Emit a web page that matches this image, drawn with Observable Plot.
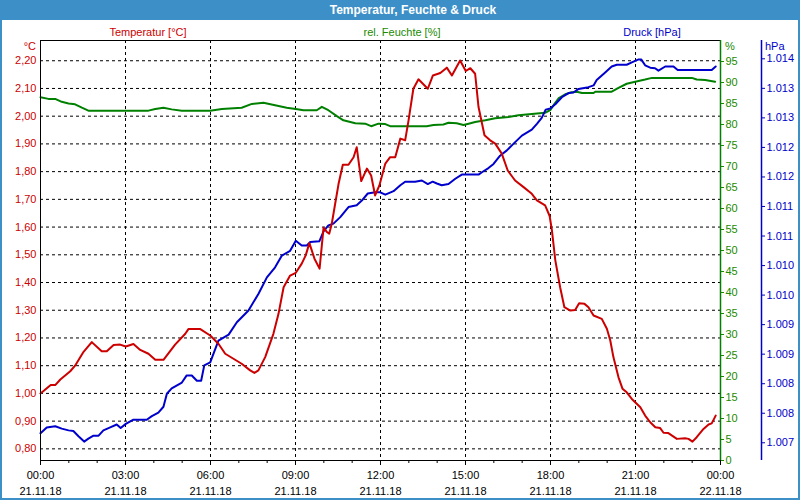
<!DOCTYPE html>
<html><head><meta charset="utf-8">
<script src="https://cdn.jsdelivr.net/npm/d3@7"></script>
<script src="https://cdn.jsdelivr.net/npm/@observablehq/plot@0.6"></script>
<style>
body{margin:0;background:#fff;}
#wrap{position:relative;width:800px;height:500px;overflow:hidden;font-family:"Liberation Sans",Arial,sans-serif;font-size:11px;background:#fff;}
#titlebar{position:absolute;left:0;top:0;width:800px;height:20px;background:#3d8fc7;}
#title{position:absolute;top:10px;left:413px;transform:translate(-50%,-50%);color:#fff;font-weight:bold;font-size:12px;white-space:nowrap;}
#border{position:absolute;left:0;top:0;width:796px;height:498px;border:2px solid #3d8fc7;border-top:none;pointer-events:none;}
.lab{position:absolute;white-space:nowrap;line-height:13px;}
#chart{position:absolute;left:0;top:20px;}
</style></head>
<body>
<div id="wrap">
  <div id="titlebar"></div>
  <div id="title">Temperatur, Feuchte &amp; Druck</div>
  <div class="lab" style="left:148px;top:32px;transform:translate(-50%,-50%);color:#cc0000">Temperatur [°C]</div>
  <div class="lab" style="left:402px;top:32px;transform:translate(-50%,-50%);color:#1a8a00">rel. Feuchte [%]</div>
  <div class="lab" style="left:652px;top:32px;transform:translate(-50%,-50%);color:#0000cc">Druck [hPa]</div>
  <div class="lab" style="left:36px;top:46px;transform:translate(-100%,-50%);color:#cc0000">°C</div>
  <div class="lab" style="left:730px;top:46px;transform:translate(-50%,-50%);color:#1a8a00">%</div>
  <div class="lab" style="left:765px;top:46px;transform:translate(0,-50%);color:#0000cc">hPa</div>
  <div id="chart"></div>
  <div id="border"></div>
</div>
<script>
// [hour of day, value]
const temperature = [[0.00,1.00],[0.36,1.03],[0.52,1.03],[0.70,1.05],[1.05,1.08],[1.22,1.10],[1.52,1.15],[1.81,1.185],[2.16,1.152],[2.34,1.152],[2.58,1.175],[2.81,1.176],[3.01,1.169],[3.28,1.178],[3.52,1.157],[3.81,1.143],[4.05,1.121],[4.34,1.121],[4.75,1.176],[5.11,1.215],[5.22,1.232],[5.64,1.232],[5.99,1.209],[6.28,1.179],[6.52,1.143],[6.81,1.125],[7.10,1.107],[7.40,1.083],[7.55,1.074],[7.69,1.083],[7.93,1.131],[8.22,1.215],[8.40,1.287],[8.58,1.383],[8.81,1.425],[9.01,1.435],[9.22,1.468],[9.36,1.498],[9.49,1.542],[9.67,1.486],[9.85,1.450],[9.99,1.598],[10.11,1.582],[10.19,1.576],[10.28,1.612],[10.40,1.684],[10.52,1.756],[10.67,1.825],[10.87,1.825],[11.05,1.852],[11.16,1.888],[11.32,1.766],[11.52,1.811],[11.67,1.786],[11.81,1.714],[11.96,1.75],[12.17,1.829],[12.34,1.852],[12.52,1.852],[12.70,1.919],[12.87,1.913],[12.99,1.985],[13.16,2.099],[13.34,2.133],[13.67,2.099],[13.85,2.147],[14.11,2.156],[14.34,2.175],[14.52,2.147],[14.81,2.201],[15.01,2.163],[15.17,2.173],[15.34,2.153],[15.46,2.033],[15.67,1.931],[15.87,1.913],[16.05,1.901],[16.28,1.865],[16.49,1.804],[16.75,1.768],[17.05,1.744],[17.34,1.720],[17.52,1.696],[17.81,1.678],[17.97,1.64],[18.05,1.588],[18.17,1.480],[18.34,1.383],[18.49,1.311],[18.70,1.299],[18.87,1.301],[19.01,1.325],[19.20,1.323],[19.34,1.311],[19.52,1.281],[19.81,1.269],[19.99,1.233],[20.11,1.191],[20.22,1.131],[20.40,1.058],[20.54,1.017],[20.69,1.004],[20.87,0.980],[21.17,0.950],[21.34,0.920],[21.52,0.896],[21.70,0.878],[21.87,0.875],[21.99,0.858],[22.16,0.857],[22.46,0.836],[22.75,0.838],[22.87,0.836],[23.01,0.826],[23.16,0.842],[23.40,0.872],[23.58,0.888],[23.69,0.892],[23.83,0.920]];

const humidity = [[0.00,86.5],[0.28,86.1],[0.52,86.1],[0.75,85.4],[0.99,85.0],[1.22,84.8],[1.46,84.0],[1.69,83.3],[3.81,83.3],[4.05,83.7],[4.34,84.0],[4.63,83.6],[4.99,83.3],[5.99,83.3],[6.40,83.7],[7.10,84.0],[7.46,84.9],[7.87,85.2],[8.28,84.6],[8.69,84.0],[9.01,83.7],[9.28,83.4],[9.75,83.4],[9.93,84.2],[10.16,83.4],[10.46,82.0],[10.69,81.0],[11.11,80.3],[11.46,80.2],[11.67,79.6],[11.93,80.2],[12.17,80.1],[12.34,79.6],[13.63,79.6],[13.87,79.9],[14.22,80.0],[14.40,80.4],[14.69,80.3],[14.93,79.9],[15.11,80.2],[15.34,80.6],[15.70,81.0],[16.05,81.5],[16.52,81.8],[16.87,82.2],[17.34,82.5],[17.81,82.8],[17.99,83.4],[18.11,84.6],[18.28,86.2],[18.52,87.2],[18.75,87.7],[18.93,87.8],[19.11,87.5],[19.52,87.5],[19.58,87.8],[20.16,87.8],[20.40,88.7],[20.69,89.7],[20.99,90.2],[21.34,90.7],[21.58,91.1],[22.99,91.1],[23.16,90.7],[23.46,90.6],[23.81,90.2]];

const pressure = [[0.00,1007.16],[0.22,1007.26],[0.52,1007.28],[0.75,1007.24],[0.99,1007.21],[1.16,1007.20],[1.34,1007.11],[1.54,1007.02],[1.69,1007.07],[1.87,1007.12],[2.05,1007.12],[2.22,1007.21],[2.46,1007.26],[2.69,1007.31],[2.83,1007.25],[3.01,1007.32],[3.28,1007.39],[3.75,1007.39],[3.93,1007.45],[4.16,1007.51],[4.34,1007.61],[4.46,1007.83],[4.63,1007.92],[4.99,1008.02],[5.16,1008.14],[5.34,1008.14],[5.52,1008.05],[5.67,1008.05],[5.78,1008.31],[5.99,1008.36],[6.28,1008.73],[6.64,1008.83],[6.93,1009.04],[7.34,1009.24],[7.69,1009.52],[7.99,1009.80],[8.28,1009.97],[8.52,1010.17],[8.81,1010.25],[9.01,1010.42],[9.22,1010.34],[9.40,1010.34],[9.52,1010.40],[9.84,1010.41],[9.99,1010.58],[10.16,1010.68],[10.34,1010.71],[10.58,1010.82],[10.87,1010.99],[11.16,1011.02],[11.34,1011.10],[11.55,1011.22],[11.81,1011.24],[11.99,1011.24],[12.17,1011.20],[12.46,1011.26],[12.70,1011.36],[12.87,1011.42],[13.22,1011.42],[13.46,1011.44],[13.67,1011.38],[13.84,1011.42],[13.99,1011.39],[14.16,1011.36],[14.40,1011.38],[14.64,1011.47],[14.87,1011.54],[15.46,1011.54],[15.58,1011.58],[15.81,1011.65],[15.99,1011.72],[16.22,1011.86],[16.46,1011.95],[16.69,1012.06],[16.99,1012.20],[17.34,1012.30],[17.52,1012.40],[17.69,1012.50],[17.83,1012.64],[17.99,1012.66],[18.17,1012.73],[18.40,1012.85],[18.64,1012.92],[18.81,1012.93],[18.99,1012.99],[19.34,1013.02],[19.52,1013.05],[19.63,1013.14],[19.93,1013.27],[20.16,1013.37],[20.34,1013.40],[20.69,1013.40],[20.87,1013.44],[21.11,1013.49],[21.20,1013.49],[21.34,1013.39],[21.52,1013.35],[21.69,1013.34],[21.81,1013.30],[22.05,1013.37],[22.34,1013.37],[22.49,1013.31],[23.69,1013.31],[23.83,1013.37]];

const tempTicks = [0.8,0.9,1.0,1.1,1.2,1.3,1.4,1.5,1.6,1.7,1.8,1.9,2.0,2.1,2.2];
const humTicks = [0,5,10,15,20,25,30,35,40,45,50,55,60,65,70,75,80,85,90,95];
const pressTicks = [1007,1007.5,1008,1008.5,1009,1009.5,1010,1010.5,1011,1011.5,1012,1012.5,1013,1013.5];
const timeTickHours = [0,3,6,9,12,15,18,21,24];
const gridHours = [3,6,9,12,15,18,21];

const tempDomain = [0.758, 2.273];
const humDomain = [0, 100];
const pressDomain = [1006.70, 1013.81];

const RED = "#cc0000", GREEN = "#008000", GREENTXT = "#1a8a00", BLUE = "#0000cc";
const day0 = Date.UTC(2018, 10, 21);
const toDate = h => new Date(day0 + h * 3600e3);
const lin = (a) => v => tempDomain[0] + (v - a[0]) / (a[1] - a[0]) * (tempDomain[1] - tempDomain[0]);
const inv = (a) => t => a[0] + (t - tempDomain[0]) / (tempDomain[1] - tempDomain[0]) * (a[1] - a[0]);
const hToT = lin(humDomain), tToH = inv(humDomain);
const pToT = lin(pressDomain), tToP = inv(pressDomain);

const tData = temperature.map(([h, v]) => ({date: toDate(h), y: v}));
const hData = humidity.map(([h, v]) => ({date: toDate(h), y: hToT(v)}));
const pData = pressure.map(([h, v]) => ({date: toDate(h), y: pToT(v)}));

const fTime = d3.utcFormat("%H:%M"), fDate = d3.utcFormat("%d.%m.%y");
const endDate = toDate(24);
const hourDates = d3.range(0, 25).map(toDate);

const chart = Plot.plot({
  width: 800, height: 480,
  marginLeft: 40, marginRight: 80, marginTop: 20, marginBottom: 40,
  style: {fontFamily: "'Liberation Sans', Arial, sans-serif", fontSize: "11px", background: "transparent"},
  x: {type: "utc", domain: [toDate(0), endDate]},
  y: {domain: tempDomain},
  marks: [
    Plot.ruleY(tempTicks, {stroke: "#000", strokeDasharray: "3,3", strokeWidth: 1}),
    Plot.ruleX(gridHours.map(toDate), {stroke: "#000", strokeDasharray: "3,3", strokeWidth: 1}),
    Plot.line(hData, {x: "date", y: "y", stroke: GREEN, strokeWidth: 2}),
    Plot.line(pData, {x: "date", y: "y", stroke: BLUE, strokeWidth: 2}),
    Plot.line(tData, {x: "date", y: "y", stroke: RED, strokeWidth: 2}),
    Plot.frame({stroke: "#000"}),
    Plot.ruleX([endDate], {stroke: GREEN, strokeWidth: 1.5}),
    Plot.ruleX([endDate], {stroke: BLUE, strokeWidth: 1.5, dx: 41}),
    Plot.axisY(tempTicks, {anchor: "left", tickSize: 0, tickPadding: 4, color: RED, label: null,
      tickFormat: d => d3.format(".2f")(d).replace(".", ",")}),
    Plot.axisY(humTicks.map(hToT), {anchor: "right", tickSize: 3, tickPadding: 2, color: GREENTXT, label: null,
      tickFormat: d => String(Math.round(tToH(d)))}),
    Plot.axisY(pressTicks.map(pToT), {anchor: "right", dx: 41, tickSize: 3, tickPadding: 2, color: BLUE, label: null,
      tickFormat: d => { const p = Math.round(Math.round(tToP(d) * 2) / 2); const s = String(p); return s.slice(0, 1) + "." + s.slice(1); }}),
    Plot.axisX(hourDates, {anchor: "bottom", tickSize: 3, tickFormat: () => "", label: null, color: "#000"}),
    Plot.axisX(timeTickHours.map(toDate), {anchor: "bottom", tickSize: 5, tickPadding: 2, label: null, color: "#000", lineHeight: 1.45,
      tickFormat: d => fTime(d) + "\n" + fDate(d)})
  ]
});
document.getElementById("chart").appendChild(chart);
</script>
</body></html>
